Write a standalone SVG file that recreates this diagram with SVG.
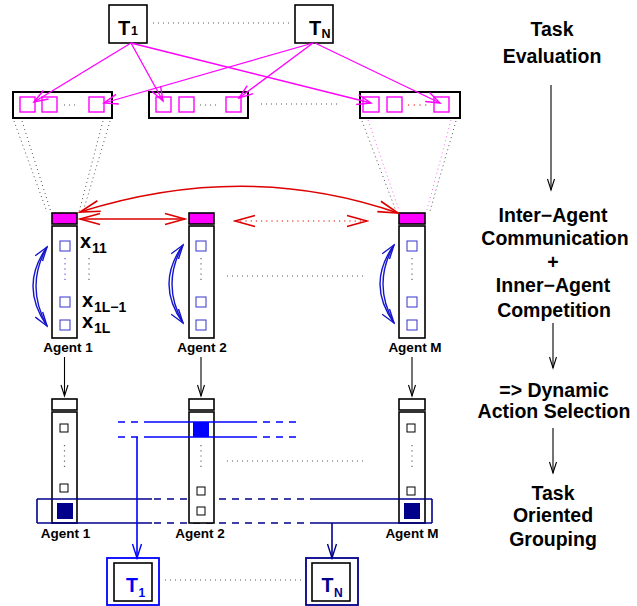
<svg xmlns="http://www.w3.org/2000/svg" width="637" height="606" viewBox="0 0 637 606">
<defs>
<style>
text{font-family:"Liberation Sans",Arial,sans-serif;font-weight:bold;}
.box{fill:#fff;stroke:#000;stroke-width:1.6;}
.mag{fill:none;stroke:#f0f;stroke-width:1.4;}
.sqb{fill:#fff;stroke:#33c;stroke-width:1;}
.sqk{fill:#fff;stroke:#000;stroke-width:1;}
.dot{fill:none;stroke:#555;stroke-width:1;stroke-dasharray:1 4;}
.dotv{fill:none;stroke:#666;stroke-width:1.2;stroke-dasharray:1.2 4;}
.lbl{font-size:13.5px;text-anchor:middle;fill:#000;}
.rt{font-size:19.5px;text-anchor:middle;fill:#000;}
</style>
<marker id="am" viewBox="-16 -7 18 14" refX="0" refY="0" markerWidth="18" markerHeight="14" markerUnits="userSpaceOnUse" orient="auto-start-reverse"><path d="M-14,-5 L0,0 L-14,5" fill="none" stroke="#f0f" stroke-width="1.4"/></marker>
<marker id="ar" viewBox="-22 -8 24 16" refX="0" refY="0" markerWidth="24" markerHeight="16" markerUnits="userSpaceOnUse" orient="auto-start-reverse"><path d="M-20,-5.5 L0,0 L-20,5.5" fill="none" stroke="#d00" stroke-width="1.6"/></marker>
<marker id="ak" viewBox="-14 -6 16 12" refX="0" refY="0" markerWidth="16" markerHeight="12" markerUnits="userSpaceOnUse" orient="auto-start-reverse"><path d="M-11,-3.5 L0,0 L-11,3.5" fill="none" stroke="#000" stroke-width="1.1"/></marker>
<marker id="ab" viewBox="-16 -7 18 14" refX="0" refY="0" markerWidth="18" markerHeight="14" markerUnits="userSpaceOnUse" orient="auto-start-reverse"><path d="M-14,-4.5 L0,0 L-14,4.5" fill="none" stroke="#00f" stroke-width="1.4"/></marker>
<marker id="an" viewBox="-16 -7 18 14" refX="0" refY="0" markerWidth="18" markerHeight="14" markerUnits="userSpaceOnUse" orient="auto-start-reverse"><path d="M-14,-4.5 L0,0 L-14,4.5" fill="none" stroke="#00008b" stroke-width="1.4"/></marker>
<marker id="ac" viewBox="-16 -7 18 14" refX="0" refY="0" markerWidth="18" markerHeight="14" markerUnits="userSpaceOnUse" orient="auto-start-reverse"><path d="M-14,-4.5 L0,0 L-14,4.5" fill="none" stroke="#1515cc" stroke-width="1.4"/></marker>
</defs>
<rect width="637" height="606" fill="#fff"/>

<!-- top task nodes -->
<g id="task-t1">
<rect class="box" x="109" y="5" width="38" height="38"/>
<text x="118" y="35" font-size="20px">T</text><text x="131" y="35" font-size="12.5px">1</text>
</g>
<g id="task-tn">
<rect class="box" x="295" y="5" width="38" height="38"/>
<text x="309" y="35" font-size="20px">T</text><text x="321.5" y="38" font-size="12.5px">N</text>
</g>
<line class="dot" x1="153" y1="23" x2="289" y2="23"/>

<!-- evaluation boxes -->
<g id="eval-1">
<rect x="13" y="92" width="99" height="26" fill="#fff" stroke="#000" stroke-width="2"/>
<rect class="mag" x="20" y="97" width="15" height="15"/>
<rect class="mag" x="42" y="97" width="15" height="15"/>
<rect class="mag" x="89" y="97" width="15" height="15"/>
<line class="dot" x1="64" y1="105" x2="78" y2="105"/>
</g>
<g id="eval-2">
<rect x="149" y="92" width="99" height="26" fill="#fff" stroke="#000" stroke-width="2"/>
<rect class="mag" x="156" y="97" width="15" height="15"/>
<rect class="mag" x="179" y="97" width="15" height="15"/>
<rect class="mag" x="226" y="97" width="15" height="15"/>
<line class="dot" x1="200" y1="105" x2="218" y2="105"/>
</g>
<g id="eval-m">
<rect x="360" y="92" width="100" height="26" fill="#fff" stroke="#000" stroke-width="2"/>
<rect class="mag" x="363" y="97" width="16" height="15"/>
<rect class="mag" x="387" y="97" width="15" height="15"/>
<rect class="mag" x="434" y="97" width="15" height="15"/>
<line x1="408" y1="105" x2="431" y2="105" stroke="#e00" stroke-width="1" stroke-dasharray="1.2 4.5"/>
</g>
<line class="dot" x1="261" y1="104" x2="338" y2="104"/>

<!-- upper agents -->
<g id="agent-1">
<rect x="52" y="213" width="25" height="11" fill="#f0f" stroke="#000" stroke-width="1.6"/>
<rect class="box" x="52" y="226" width="25" height="112"/>
<rect class="sqb" x="60" y="241" width="10" height="10"/>
<line x1="65" y1="258" x2="65" y2="284" stroke="#33c" stroke-width="1" stroke-dasharray="1.2 4"/>
<rect class="sqb" x="60" y="297" width="10" height="10"/>
<rect class="sqb" x="60" y="320" width="10" height="10"/>
<text x="80" y="248" font-size="20px">x</text><text x="92" y="253" font-size="14px">11</text>
<line class="dotv" x1="89" y1="258" x2="89" y2="284"/>
<text x="82" y="307" font-size="20px">x</text><text x="94" y="312" font-size="14px">1L−1</text>
<text x="82" y="328" font-size="20px">x</text><text x="94" y="333" font-size="14px">1L</text>
<text class="lbl" x="68" y="352">Agent 1</text>
</g>
<g id="agent-2">
<rect x="189" y="213" width="25" height="11" fill="#f0f" stroke="#000" stroke-width="1.6"/>
<rect class="box" x="189" y="226" width="25" height="112"/>
<rect class="sqb" x="196" y="241" width="10" height="10"/>
<line class="dotv" x1="201" y1="258" x2="201" y2="284"/>
<rect class="sqb" x="196" y="297" width="10" height="10"/>
<rect class="sqb" x="196" y="320" width="10" height="10"/>
<text class="lbl" x="202" y="352">Agent 2</text>
</g>
<g id="agent-m">
<rect x="399" y="213" width="26" height="11" fill="#f0f" stroke="#000" stroke-width="1.6"/>
<rect class="box" x="399" y="226" width="26" height="112"/>
<rect class="sqb" x="407" y="241" width="10" height="10"/>
<line class="dotv" x1="412" y1="258" x2="412" y2="284"/>
<rect class="sqb" x="407" y="297" width="10" height="10"/>
<rect class="sqb" x="407" y="320" width="10" height="10"/>
<text class="lbl" x="415" y="352">Agent M</text>
</g>
<line class="dot" x1="227" y1="276" x2="363" y2="276"/>

<!-- lower agents 1 and M -->
<g id="agent-1-low">
<rect class="box" x="52" y="399" width="25" height="11"/>
<rect class="box" x="52" y="412" width="25" height="111"/>
<rect class="sqk" x="60" y="424" width="8" height="8"/>
<line class="dotv" x1="64.5" y1="445" x2="64.5" y2="471"/>
<rect class="sqk" x="60" y="484" width="8" height="8"/>
<rect x="57" y="503" width="16" height="16" fill="#00008b"/>
<text class="lbl" x="65.5" y="538">Agent 1</text>
</g>
<g id="agent-m-low">
<rect class="box" x="399" y="399" width="26" height="11"/>
<rect class="box" x="399" y="412" width="26" height="111"/>
<rect class="sqk" x="407" y="424" width="8" height="8"/>
<line class="dotv" x1="412" y1="445" x2="412" y2="471"/>
<rect class="sqk" x="407" y="487" width="8" height="8"/>
<rect x="404" y="503" width="16" height="16" fill="#00008b"/>
<text class="lbl" x="412" y="538">Agent M</text>
</g>

<!-- grouping rectangle (navy) -->
<g id="group-rect" fill="none" stroke="#00008b" stroke-width="1.6">
<line x1="37" y1="499" x2="37" y2="523"/>
<line x1="432" y1="499" x2="432" y2="523"/>
<line x1="37" y1="499" x2="152" y2="499"/>
<line x1="37" y1="523" x2="152" y2="523"/>
<line x1="313" y1="499" x2="432" y2="499"/>
<line x1="313" y1="523" x2="432" y2="523"/>
<line x1="154" y1="499" x2="313" y2="499" stroke-dasharray="7 6"/>
<line x1="154" y1="523" x2="313" y2="523" stroke-dasharray="7 6"/>
</g>

<g id="agent-2-low">
<rect class="box" x="189" y="399" width="25" height="11"/>
<rect class="box" x="189" y="412" width="25" height="111"/>
<rect x="193" y="422" width="16" height="15" fill="#00f"/>
<line class="dotv" x1="201" y1="445" x2="201" y2="471"/>
<rect class="sqk" x="197" y="487" width="8" height="8"/>
<rect class="sqk" x="197" y="507" width="8" height="8"/>
<text class="lbl" x="200" y="538">Agent 2</text>
</g>
<line class="dot" x1="227" y1="461" x2="363" y2="461"/>

<!-- blue selection lines -->
<g id="selection" fill="none" stroke="#00f" stroke-width="1.6">
<line x1="145" y1="422" x2="257" y2="422"/>
<line x1="145" y1="437" x2="257" y2="437"/>
<line x1="118" y1="422" x2="145" y2="422" stroke-dasharray="7 6"/>
<line x1="118" y1="437" x2="145" y2="437" stroke-dasharray="7 6"/>
<line x1="263" y1="422" x2="298" y2="422" stroke-dasharray="7 6"/>
<line x1="263" y1="437" x2="298" y2="437" stroke-dasharray="7 6"/>
</g>

<!-- bottom task nodes -->
<g id="task-t1-low">
<rect x="107" y="558" width="52" height="47" fill="#fff" stroke="#00f" stroke-width="1.8"/>
<rect class="box" x="114" y="563" width="38" height="38"/>
<text x="126" y="592" font-size="19.5px" fill="#00f">T</text><text x="138.5" y="597" font-size="12px" fill="#00f">1</text>
</g>
<g id="task-tn-low">
<rect x="306" y="558" width="52" height="47" fill="#fff" stroke="#00008b" stroke-width="1.8"/>
<rect class="box" x="312" y="563" width="38" height="38"/>
<text x="321.5" y="592" font-size="19.5px" fill="#00008b">T</text><text x="334" y="597" font-size="12px" fill="#00008b">N</text>
</g>
<line class="dot" x1="165" y1="580" x2="302" y2="580"/>

<!-- connectors -->
<g id="connectors" fill="none">
<g stroke="#f0f" stroke-width="1.3">
<line x1="131" y1="43" x2="34" y2="102" marker-end="url(#am)"/>
<line x1="131" y1="43" x2="163" y2="101" marker-end="url(#am)"/>
<line x1="131" y1="43" x2="371" y2="103" marker-end="url(#am)"/>
<line x1="313" y1="43" x2="104" y2="103" marker-end="url(#am)"/>
<line x1="313" y1="43" x2="239" y2="98" marker-end="url(#am)"/>
<line x1="315" y1="43" x2="440" y2="103" marker-end="url(#am)"/>
</g>
<g stroke="#555" stroke-width="1" stroke-dasharray="1 3.2">
<line x1="14" y1="121" x2="47" y2="212"/>
<line x1="22" y1="121" x2="51" y2="212"/>
<line x1="103" y1="121" x2="79" y2="212"/>
<line x1="110" y1="121" x2="83" y2="212"/>
<line x1="362" y1="121" x2="396" y2="211"/>
<line x1="456" y1="121" x2="430" y2="211"/>
</g>
<g stroke="#f6f" stroke-width="1" stroke-dasharray="1 3.2">
<line x1="368" y1="120" x2="399" y2="210"/>
<line x1="451" y1="120" x2="427" y2="210"/>
</g>
<g stroke="#d00" stroke-width="1.6">
<path d="M80,212 Q245,160 398,213" marker-start="url(#ar)" marker-end="url(#ar)"/>
<line x1="80" y1="219" x2="185" y2="219" marker-start="url(#ar)" marker-end="url(#ar)"/>
<line x1="235" y1="221" x2="367" y2="221" stroke-width="1.2" stroke-dasharray="1.2 4" marker-start="url(#ar)" marker-end="url(#ar)"/>
</g>
<g stroke="#1515cc" stroke-width="1.4">
<path d="M47,247 Q19,286 47,326" marker-start="url(#ac)" marker-end="url(#ac)"/>
<path d="M47,247 Q25,286 47,326"/>
<path d="M183,245 Q155,284 183,323" marker-start="url(#ac)" marker-end="url(#ac)"/>
<path d="M183,245 Q161,284 183,323"/>
<path d="M394,245 Q366,284 394,323" marker-start="url(#ac)" marker-end="url(#ac)"/>
<path d="M394,245 Q372,284 394,323"/>
</g>
<g stroke="#000" stroke-width="1.1">
<line x1="64.5" y1="357" x2="64.5" y2="396" marker-end="url(#ak)"/>
<line x1="201" y1="357" x2="201" y2="396" marker-end="url(#ak)"/>
<line x1="412" y1="357" x2="412" y2="396" marker-end="url(#ak)"/>
<line x1="551" y1="85" x2="551" y2="190" marker-end="url(#ak)"/>
<line x1="553" y1="323" x2="553" y2="368" marker-end="url(#ak)"/>
<line x1="553" y1="428" x2="553" y2="473" marker-end="url(#ak)"/>
</g>
<line x1="137" y1="437" x2="137" y2="558" stroke="#00f" stroke-width="1.6" marker-end="url(#ab)"/>
<line x1="332" y1="523" x2="332" y2="558" stroke="#00008b" stroke-width="1.6" marker-end="url(#an)"/>
</g>

<!-- right column texts -->
<g id="legend">
<text class="rt" x="552" y="36">Task</text>
<text class="rt" x="552" y="63">Evaluation</text>
<text class="rt" x="553" y="222" fill="#d00">Inter−Agent</text>
<text class="rt" x="555" y="245">Communication</text>
<text class="rt" x="553" y="269">+</text>
<text class="rt" x="553" y="292" fill="#00f">Inner−Agent</text>
<text class="rt" x="554" y="317">Competition</text>
<text class="rt" x="554" y="397">=&gt; Dynamic</text>
<text class="rt" x="554" y="418">Action Selection</text>
<text class="rt" x="553" y="500">Task</text>
<text class="rt" x="553" y="522">Oriented</text>
<text class="rt" x="553" y="546">Grouping</text>
</g>
</svg>
